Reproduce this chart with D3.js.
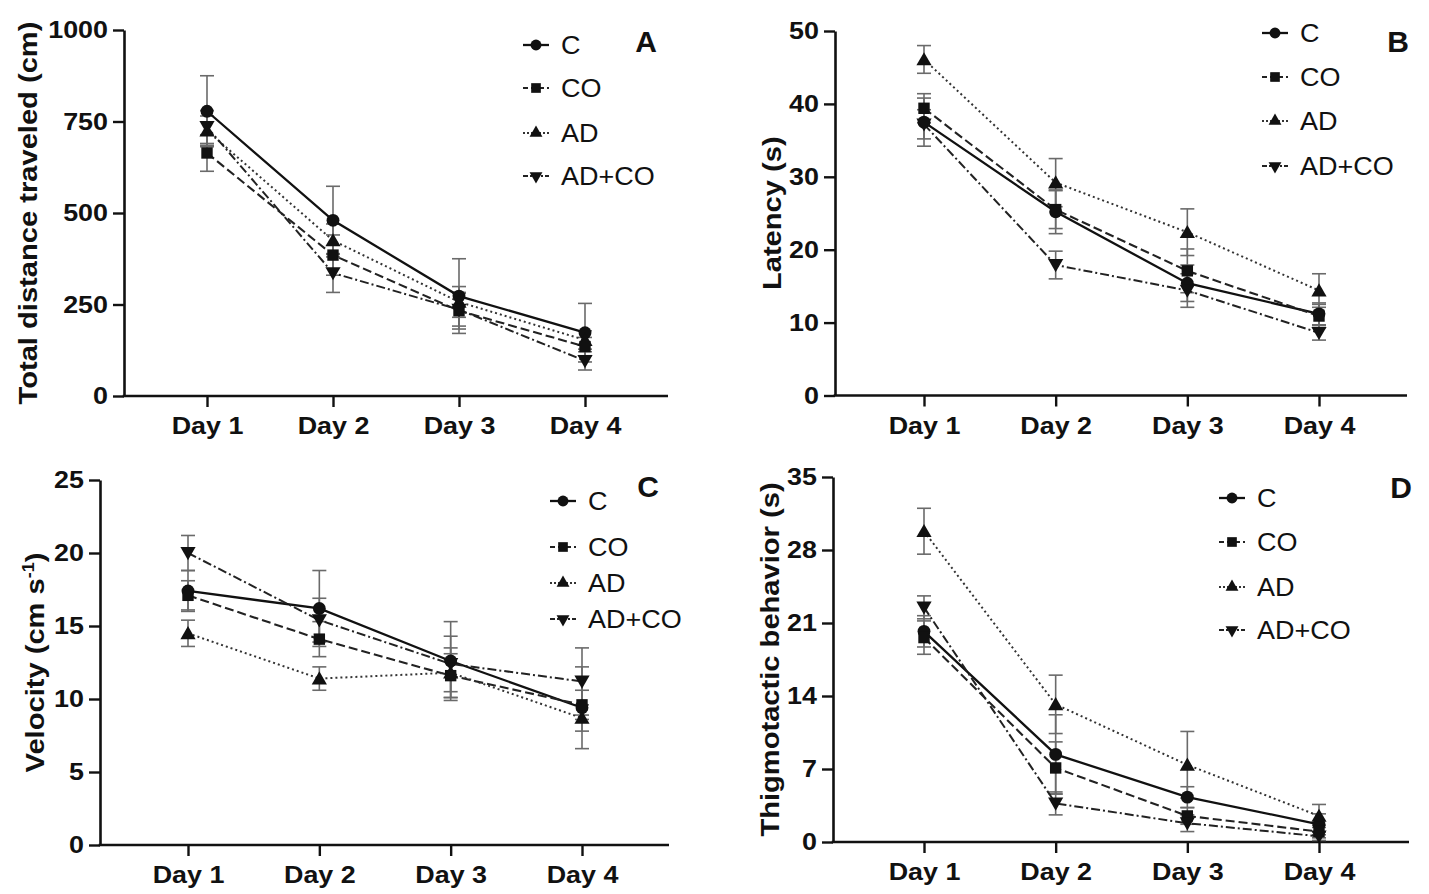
<!DOCTYPE html>
<html>
<head>
<meta charset="utf-8">
<script src="https://cdn.jsdelivr.net/npm/d3@7"></script>
<style>
  html, body { margin: 0; padding: 0; background: #fff; }
  svg { display: block; }
  text { font-family: "Liberation Sans", Arial, Helvetica, sans-serif; fill: #111; }
</style>
</head>
<body>
<svg id="chart" width="1429" height="894"></svg>
<script>
// ---- data ----------------------------------------------------------
const days = ["Day 1", "Day 2", "Day 3", "Day 4"];
const groups = ["C", "CO", "AD", "AD+CO"];

// Total distance traveled (cm): rows follow `groups`
const distanceMean = [
  [778, 480, 273, 173],
  [664, 385, 233, 135],
  [725, 425, 257, 153],
  [735, 336, 236, 96]
];
const distanceSem = [
  [97, 93, 102, 80],
  [50, 55, 50, 25],
  [40, 45, 42, 25],
  [45, 53, 45, 25]
];
const distanceTicks = [0, 250, 500, 750, 1000];

// Latency (s)
const latencyMean = [
  [37.5, 25.2, 15.4, 11.2],
  [39.4, 25.5, 17.1, 10.9],
  [46.1, 29.2, 22.4, 14.4],
  [37.2, 17.9, 14.4, 8.6]
];
const latencySem = [
  [3.3, 3.0, 2.5, 1.5],
  [2.0, 2.6, 3.0, 1.6],
  [1.9, 3.3, 3.2, 2.3],
  [2.0, 1.9, 2.3, 1.0]
];
const latencyTicks = [0, 10, 20, 30, 40, 50];

// Velocity (cm s-1)
const velocityMean = [
  [17.4, 16.2, 12.6, 9.4],
  [17.1, 14.1, 11.6, 9.6],
  [14.5, 11.4, 11.8, 8.7],
  [20.0, 15.4, 12.4, 11.2]
];
const velocitySem = [
  [1.4, 2.6, 2.7, 2.8],
  [1.0, 1.2, 1.5, 1.0],
  [0.9, 0.8, 1.7, 0.9],
  [1.2, 1.5, 1.9, 2.3]
];
const velocityTicks = [0, 5, 10, 15, 20, 25];

// Thigmotactic behavior (s)
const thigmoMean = [
  [20.2, 8.4, 4.3, 1.7],
  [19.6, 7.1, 2.5, 1.0],
  [29.8, 13.2, 7.4, 2.5],
  [22.5, 3.7, 1.8, 0.55]
];
const thigmoSem = [
  [1.5, 3.8, 1.0, 1.0],
  [1.6, 2.5, 0.8, 0.6],
  [2.2, 2.8, 3.2, 1.1],
  [1.1, 1.1, 0.8, 0.4]
];
const thigmoTicks = [0, 7, 14, 21, 28, 35];

// ---- styling per group ---------------------------------------------
const lineStyle = [
  { dash: null,        width: 2.3, color: "#111", symbol: d3.symbolCircle,   size: 130, rot: 0 },
  { dash: "9,4",       width: 2.1, color: "#222", symbol: d3.symbolSquare,   size: 130, rot: 0 },
  { dash: "2,3",       width: 2.0, color: "#333", symbol: d3.symbolTriangle, size: 100, rot: 0 },
  { dash: "9,3,2,3",   width: 2.0, color: "#222", symbol: d3.symbolTriangle, size: 100, rot: 180 }
];

const TICK_K = 1.12;   // horizontal widening of bold axis glyphs
const LEGEND_K = 1.08; // horizontal widening of legend glyphs

function widen(sel, k) {
  sel.each(function () {
    const t = d3.select(this);
    const x = +t.attr("x") || 0;
    t.attr("transform", `translate(${x * (1 - k)},0) scale(${k},1)`);
  });
}

const svg = d3.select("#chart");

// ---- panel layout ----------------------------------------------------
const panels = [
  {
    letter: "A", title: "Total distance traveled (cm)", mean: distanceMean, sem: distanceSem,
    ticks: distanceTicks, max: 1000,
    left: 124, right: 668, top: 30, bottom: 396, day1: 207, day4: 585,
    titleX: 28, letterX: 646, letterY: 52,
    legendX: 536, legendY: [45, 88, 133, 176]
  },
  {
    letter: "B", title: "Latency (s)", mean: latencyMean, sem: latencySem,
    ticks: latencyTicks, max: 50,
    left: 835, right: 1407, top: 31, bottom: 395.5, day1: 924, day4: 1319,
    titleX: 772, letterX: 1398, letterY: 52,
    legendX: 1275, legendY: [33, 77, 121, 166]
  },
  {
    letter: "C", title: "Velocity", mean: velocityMean, sem: velocitySem,
    ticks: velocityTicks, max: 25, superscript: true,
    left: 100, right: 669, top: 480, bottom: 845, day1: 188, day4: 582,
    titleX: 35, letterX: 648, letterY: 497,
    legendX: 563, legendY: [501, 547, 583, 619]
  },
  {
    letter: "D", title: "Thigmotactic behavior (s)", mean: thigmoMean, sem: thigmoSem,
    ticks: thigmoTicks, max: 35,
    left: 833, right: 1409, top: 477, bottom: 842, day1: 924, day4: 1319,
    titleX: 770, letterX: 1401, letterY: 498,
    legendX: 1232, legendY: [498, 542, 587, 630]
  }
];

panels.forEach(p => {
  const g = svg.append("g");
  const x = d3.scalePoint().domain(days).range([p.day1, p.day4]);
  const y = d3.scaleLinear().domain([0, p.max]).range([p.bottom, p.top]);

  // y axis
  const yAxis = g.append("g")
    .attr("transform", `translate(${p.left},0)`)
    .call(d3.axisLeft(y).tickValues(p.ticks).tickFormat(d3.format("d"))
      .tickSize(11).tickSizeOuter(0).tickPadding(5));
  yAxis.select(".domain").attr("stroke", "#111").attr("stroke-width", 2.6);
  yAxis.selectAll(".tick line").attr("stroke", "#111").attr("stroke-width", 2.4);
  yAxis.selectAll("text")
    .attr("font-size", 24).attr("font-weight", "bold").attr("fill", "#111")
    .attr("font-family", "'Liberation Sans', Arial, sans-serif")
    .call(widen, TICK_K);

  // x axis
  const xAxis = g.append("g")
    .attr("transform", `translate(0,${p.bottom})`)
    .call(d3.axisBottom(x).tickSize(11).tickPadding(10));
  xAxis.select(".domain").remove();
  xAxis.append("line")
    .attr("x1", p.left - 1.3).attr("x2", p.right)
    .attr("stroke", "#111").attr("stroke-width", 2.6);
  xAxis.selectAll(".tick line").attr("stroke", "#111").attr("stroke-width", 2.4);
  xAxis.selectAll("text")
    .attr("font-size", 24).attr("font-weight", "bold").attr("fill", "#111")
    .attr("font-family", "'Liberation Sans', Arial, sans-serif")
    .call(widen, TICK_K);

  // y title
  const cy = (p.top + p.bottom) / 2;
  const tg = g.append("g").attr("transform", `translate(${p.titleX},${cy}) rotate(-90)`);
  const tt = tg.append("text")
    .attr("text-anchor", "middle").attr("dy", "0.36em")
    .attr("font-size", 26).attr("font-weight", "bold")
    .attr("transform", `scale(${TICK_K},1)`);
  if (p.superscript) {
    tt.append("tspan").text("Velocity (cm s");
    tt.append("tspan").attr("font-size", 16).attr("dy", -10).text("-1");
    tt.append("tspan").attr("dy", 10).text(")");
  } else {
    tt.text(p.title);
  }

  // panel letter
  g.append("text")
    .attr("x", p.letterX).attr("y", p.letterY)
    .attr("text-anchor", "middle")
    .attr("font-size", 30).attr("font-weight", "bold")
    .text(p.letter);

  // error bars
  p.mean.forEach((row, gi) => {
    const eg = g.append("g").attr("stroke", "#6a6a6a").attr("stroke-width", 1.6).attr("fill", "none");
    row.forEach((v, di) => {
      const cx = x(days[di]);
      const e = p.sem[gi][di];
      const y1 = y(v + e), y0 = y(Math.max(0, v - e));
      eg.append("line").attr("x1", cx).attr("x2", cx).attr("y1", y1).attr("y2", y0);
      eg.append("line").attr("x1", cx - 7).attr("x2", cx + 7).attr("y1", y1).attr("y2", y1);
      eg.append("line").attr("x1", cx - 7).attr("x2", cx + 7).attr("y1", y0).attr("y2", y0);
    });
  });

  // lines
  const line = d3.line().x((d, i) => x(days[i])).y(d => y(d));
  p.mean.forEach((row, gi) => {
    const s = lineStyle[gi];
    g.append("path")
      .datum(row)
      .attr("d", line)
      .attr("fill", "none")
      .attr("stroke", s.color)
      .attr("stroke-width", s.width)
      .attr("stroke-dasharray", s.dash);
  });

  // markers
  p.mean.forEach((row, gi) => {
    const s = lineStyle[gi];
    const sym = d3.symbol().type(s.symbol).size(s.size);
    row.forEach((v, di) => {
      g.append("path")
        .attr("d", sym)
        .attr("fill", "#111")
        .attr("transform", `translate(${x(days[di])},${y(v) + (s.symbol === d3.symbolTriangle ? (s.rot ? -1.5 : 1.5) : 0)}) rotate(${s.rot})`);
    });
  });

  // legend
  groups.forEach((name, gi) => {
    const s = lineStyle[gi];
    const ly = p.legendY[gi];
    const lg = g.append("g").attr("transform", `translate(${p.legendX},${ly})`);
    lg.append("line")
      .attr("x1", -13).attr("x2", 13)
      .attr("stroke", s.color).attr("stroke-width", s.width)
      .attr("stroke-dasharray", s.dash ? (gi === 1 ? "5,3" : gi === 2 ? "2,2" : "5,2,2,2") : null);
    lg.append("path")
      .attr("d", d3.symbol().type(s.symbol).size(s.size * 0.72))
      .attr("fill", "#111")
      .attr("transform", `rotate(${s.rot})`);
    const lt = lg.append("text")
      .attr("x", 25).attr("dy", "0.36em")
      .attr("font-size", 25)
      .text(name);
    widen(lt, LEGEND_K);
  });
});
</script>
</body>
</html>
